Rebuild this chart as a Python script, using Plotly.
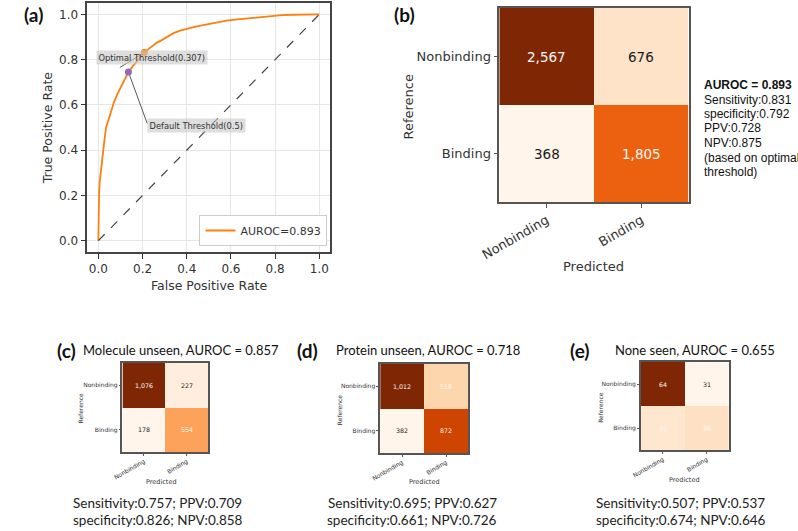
import plotly.graph_objects as go

W, H = 798, 531

# ---------------- data ----------------
fpr = [0.0, 0.0, 0.003, 0.006, 0.010, 0.015, 0.020, 0.028, 0.035, 0.045, 0.055, 0.070,
       0.085, 0.100, 0.115, 0.136, 0.155, 0.175, 0.190, 0.208, 0.225, 0.245, 0.265,
       0.285, 0.310, 0.340, 0.370, 0.400, 0.440, 0.480, 0.530, 0.580, 0.630, 0.680,
       0.730, 0.780, 0.830, 0.880, 0.930, 0.970, 1.0]
tpr = [0.0, 0.08, 0.20, 0.26, 0.30, 0.35, 0.40, 0.45, 0.50, 0.53, 0.57, 0.61,
       0.645, 0.675, 0.705, 0.745, 0.77, 0.795, 0.812, 0.831, 0.845, 0.862, 0.875,
       0.885, 0.900, 0.917, 0.928, 0.937, 0.946, 0.953, 0.964, 0.972, 0.978, 0.983,
       0.988, 0.993, 0.996, 0.998, 0.999, 1.0, 1.0]
chance_x = [0.0, 1.0]
chance_y = [0.0, 1.0]
auroc_main = 0.893
opt_point = [0.208, 0.831]
opt_thr = 0.307
def_point = [0.136, 0.745]
def_thr = 0.5
opt_label_anchor = [0.097, 0.765]
def_label_anchor = [0.221, 0.518]

classes = ["Nonbinding", "Binding"]
cm_b = [[2567, 676], [368, 1805]]
cm_c = [[1076, 227], [178, 554]]
cm_d = [[1012, 518], [382, 872]]
cm_e = [[64, 31], [35, 36]]

metrics_b = ["Sensitivity:0.831", "specificity:0.792", "PPV:0.728", "NPV:0.875",
             "(based on optimal", "threshold)"]
titles = {"c": ("Molecule unseen", 0.857), "d": ("Protein unseen", 0.718),
          "e": ("None seen", 0.655)}
metrics_small = {
    "c": [("Sensitivity", 0.757), ("PPV", 0.709), ("specificity", 0.826), ("NPV", 0.858)],
    "d": [("Sensitivity", 0.695), ("PPV", 0.627), ("specificity", 0.661), ("NPV", 0.726)],
    "e": [("Sensitivity", 0.507), ("PPV", 0.537), ("specificity", 0.674), ("NPV", 0.646)],
}

# ---------------- helpers ----------------
def px(x):
    return x / W

def py(y):
    return 1 - y / H

DJ = "DejaVu Sans"
LATO = "Lato"
ARIAL = "Liberation Sans"
TXT = "#333333"

annotations = []

def ann(text, x, y, size, family=DJ, color=TXT, xanchor="center", yanchor="middle",
        angle=0):
    annotations.append(dict(text=text, x=px(x), y=py(y), xref="paper", yref="paper",
                            showarrow=False, xanchor=xanchor, yanchor=yanchor,
                            textangle=angle,
                            font=dict(family=family, size=size, color=color)))

fig = go.Figure()

# ---------------- panel (a): ROC ----------------
fig.add_trace(go.Scatter(x=fpr, y=tpr, mode="lines", name=f"AUROC={auroc_main}",
                         line=dict(color="#ff7f0e", width=1.8), xaxis="x", yaxis="y"))
fig.add_trace(go.Scatter(x=chance_x, y=chance_y, mode="lines", showlegend=False,
                         line=dict(color="#444444", width=1.2, dash="dash"),
                         xaxis="x", yaxis="y"))
fig.add_trace(go.Scatter(x=[opt_label_anchor[0], opt_point[0]],
                         y=[opt_label_anchor[1], opt_point[1]], mode="lines",
                         showlegend=False, line=dict(color="#444444", width=0.9),
                         xaxis="x", yaxis="y"))
fig.add_trace(go.Scatter(x=[def_point[0], def_label_anchor[0]],
                         y=[def_point[1], def_label_anchor[1]], mode="lines",
                         showlegend=False, line=dict(color="#444444", width=0.9),
                         xaxis="x", yaxis="y"))
fig.add_trace(go.Scatter(x=[opt_point[0]], y=[opt_point[1]], mode="markers",
                         showlegend=False, marker=dict(color="#ff7f0e", size=7),
                         xaxis="x", yaxis="y"))
fig.add_trace(go.Scatter(x=[def_point[0]], y=[def_point[1]], mode="markers",
                         showlegend=False, marker=dict(color="#9467bd", size=7),
                         xaxis="x", yaxis="y"))

annotations.append(dict(text=f"Optimal Threshold({opt_thr})", x=-0.009, y=0.81,
                        xref="x", yref="y", showarrow=False, xanchor="left",
                        yanchor="middle", bgcolor="rgba(200,200,200,0.6)", borderpad=1.5,
                        font=dict(family=DJ, size=8.3, color=TXT)))
annotations.append(dict(text=f"Default Threshold({def_thr})", x=0.221, y=0.509,
                        xref="x", yref="y", showarrow=False, xanchor="left",
                        yanchor="middle", bgcolor="rgba(200,200,200,0.6)", borderpad=1.5,
                        font=dict(family=DJ, size=8.3, color=TXT)))

ann("False Positive Rate", 195, 285, 12.5)
ann("True Positive Rate", 30, 128, 12.5, angle=-90)

# ---------------- heatmaps ----------------
def add_cm(cm, xa, ya, text_colors, size):
    fig.add_trace(go.Heatmap(z=cm, x=classes, y=classes, colorscale="Oranges",
                             showscale=False, xaxis=xa, yaxis=ya, hoverinfo="z",
                             xgap=0, ygap=0))
    for i, row in enumerate(cm):
        for j, v in enumerate(row):
            annotations.append(dict(text=f"{v:,}", x=classes[j], y=classes[i],
                                    xref=xa, yref=ya, showarrow=False,
                                    font=dict(family=DJ, size=size,
                                              color=text_colors[i][j])))

WH, DK = "#f7f7f7", "#1a1a1a"
add_cm(cm_b, "x2", "y2", [[WH, DK], [DK, WH]], 13.5)
add_cm(cm_c, "x3", "y3", [[WH, DK], [DK, WH]], 6.3)
add_cm(cm_d, "x4", "y4", [[WH, WH], [DK, WH]], 6.3)
add_cm(cm_e, "x5", "y5", [[WH, DK], [WH, WH]], 6.3)

# (b) labels and metrics
ann("Reference", 398, 107, 13, angle=-90)
ann("Predicted", 588, 266, 13)
ann(f"<b>AUROC = {auroc_main}</b>", 700, 85, 12, family=ARIAL, color="#111111",
    xanchor="left")
for k, line in enumerate(metrics_b):
    ann(line, 700, 99.5 + 14.5 * k, 12, family=ARIAL, color="#111111", xanchor="left")

# panel letters
ann("<b>(a)</b>", 3, 15, 19, family=LATO, color="#111111", xanchor="left")
ann("<b>(b)</b>", 382, 15, 19, family=LATO, color="#111111", xanchor="left")
ann("<b>(c)</b>", 37, 350, 19, family=LATO, color="#111111", xanchor="left")
ann("<b>(d)</b>", 283, 350, 19, family=LATO, color="#111111", xanchor="left")
ann("<b>(e)</b>", 562, 350, 19, family=LATO, color="#111111", xanchor="left")

title_x = {"c": 63, "d": 323, "e": 608}
center_x = {"c": 142, "d": 403, "e": 678}
ref_pos = {"c": (62, 408), "d": (328, 410), "e": (595, 407)}
pred_pos = {"c": (146, 482), "d": (415, 482), "e": (682, 480)}
for key in ["c", "d", "e"]:
    name, auc = titles[key]
    ann(f"{name}, AUROC = {auc}", title_x[key], 350, 13, family=LATO,
        color="#111111", xanchor="left")
    m = metrics_small[key]
    ann(f"{m[0][0]}:{m[0][1]}; {m[1][0]}:{m[1][1]}", center_x[key], 503, 13.5,
        family=LATO, color="#222222")
    ann(f"{m[2][0]}:{m[2][1]}; {m[3][0]}:{m[3][1]}", center_x[key], 519.5, 13.5,
        family=LATO, color="#222222")
    ann("Reference", ref_pos[key][0], ref_pos[key][1], 6, angle=-90)
    ann("Predicted", pred_pos[key][0], pred_pos[key][1], 6.5)

# ---------------- layout ----------------
roc_axis = dict(range=[-0.05, 1.05], tickvals=[0, 0.2, 0.4, 0.6, 0.8, 1.0],
                tickformat=".1f", ticks="outside", ticklen=5, tickwidth=1.2,
                tickcolor="#333333", showline=True, mirror=True, linecolor="#444444",
                linewidth=1.6, showgrid=True, gridcolor="#e6e6e6", gridwidth=1,
                zeroline=False, tickfont=dict(family=DJ, size=12, color=TXT))

def cm_axes(xdom, ydom, fsize, tlen):
    xa = dict(domain=xdom, showline=True, mirror=True, linecolor="#555555",
              linewidth=1.5, ticks="outside", ticklen=tlen, tickcolor="#555555",
              tickangle=-30, tickfont=dict(family=DJ, size=fsize, color=TXT),
              showgrid=False, zeroline=False)
    ya = dict(domain=ydom, showline=True, mirror=True, linecolor="#555555",
              linewidth=1.5, ticks="outside", ticklen=tlen, tickcolor="#555555",
              autorange="reversed", tickfont=dict(family=DJ, size=fsize, color=TXT),
              showgrid=False, zeroline=False)
    return xa, ya

x2, y2 = cm_axes([px(492), px(686)], [py(202), py(8)], 13, 4)
x3, y3 = cm_axes([px(106), px(194)], [py(452), py(363)], 6, 2)
x4, y4 = cm_axes([px(370), px(460)], [py(453), py(364)], 6, 2)
x5, y5 = cm_axes([px(637), px(727)], [py(450), py(362)], 6, 2)
x2["anchor"], y2["anchor"] = "y2", "x2"
x3["anchor"], y3["anchor"] = "y3", "x3"
x4["anchor"], y4["anchor"] = "y4", "x4"
x5["anchor"], y5["anchor"] = "y5", "x5"

fig.update_layout(
    width=W, height=H, margin=dict(l=0, r=0, t=0, b=0),
    paper_bgcolor="white", plot_bgcolor="white",
    xaxis=dict(domain=[px(70), px(319)], anchor="y", **roc_axis),
    yaxis=dict(domain=[py(252), py(3)], anchor="x", **roc_axis),
    xaxis2=x2, yaxis2=y2, xaxis3=x3, yaxis3=y3,
    xaxis4=x4, yaxis4=y4, xaxis5=x5, yaxis5=y5,
    showlegend=True,
    legend=dict(x=px(316), y=py(246), xanchor="right", yanchor="bottom",
                bgcolor="white", bordercolor="#cccccc", borderwidth=1,
                font=dict(family=DJ, size=11, color=TXT),
                tracegroupgap=0, itemwidth=30),
    annotations=annotations,
)

fig.write_html("out.html", config={"displayModeBar": False},
               post_script="document.body.style.margin='0px';"
                           "document.body.style.overflow='hidden';")
